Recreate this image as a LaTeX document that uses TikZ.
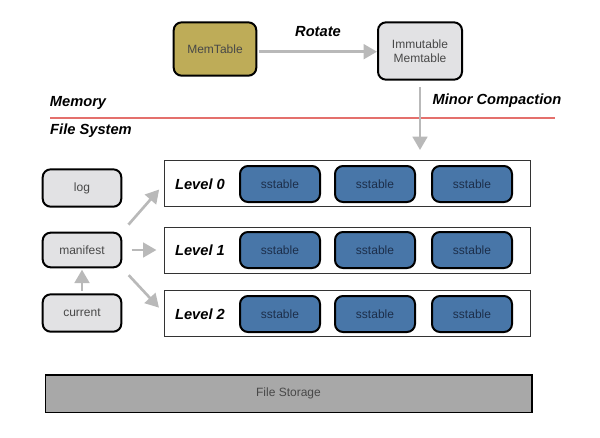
\documentclass[tikz,border=0pt]{standalone}
\usepackage{fontspec}
\setmainfont{Liberation Sans}
\usetikzlibrary{arrows.meta,calc}

\definecolor{memfill}{RGB}{190,172,88}
\definecolor{immfill}{RGB}{226,226,228}
\definecolor{sstfill}{RGB}{72,118,168}
\definecolor{storefill}{RGB}{168,168,168}
\definecolor{arrowgray}{RGB}{185,185,185}
\definecolor{redline}{RGB}{228,112,108}
\definecolor{boxtext}{RGB}{72,72,72}
\definecolor{ssttext}{RGB}{28,46,74}

\tikzset{every picture/.style={line width=0.75pt}}
\tikzset{
  rbox/.style={draw=black, line width=1.5pt, rounded corners=6pt, fill=immfill, text=boxtext, font=\fontsize{9}{10.5}\selectfont, align=center},
  sstbox/.style={rbox, fill=sstfill, text=ssttext, minimum width=60pt, minimum height=27pt},
  levelbox/.style={draw=black!80, line width=0.6pt, fill=white, minimum width=274pt, minimum height=34.5pt},
  lbl/.style={font=\fontsize{11}{13}\selectfont\bfseries\itshape},
  garrow/.style={draw=arrowgray, line width=2pt, -{Triangle[length=10pt,width=11pt]}}
}

\begin{document}
\begin{tikzpicture}[x=0.75pt,y=0.75pt,yscale=-1,xscale=1]
	\useasboundingbox (0,0) rectangle (600,437);

	%Shape: MemTable
	\node[rbox, fill=memfill, minimum width=62pt, minimum height=40pt] (mem) at (215,49) {MemTable};
	%Shape: Immutable Memtable
	\node[rbox, minimum width=63pt, minimum height=43pt] (imm) at (420,51) {Immutable\\Memtable};

	%Straight Lines: memory border
	\coordinate (redA) at (50,118);
	\coordinate (redB) at (555,118);
	\draw[redline, line width=1.1pt] (redA) -- (redB);

	%Shape: levels
	\node[levelbox] (lv0) at (347.5,183.5) {};
	\node[levelbox] (lv1) at (347.5,250) {};
	\node[levelbox] (lv2) at (347.5,313.5) {};

	% Text Node
	\node[lbl] (lab0) at (200,184) {Level 0};
	% Text Node
	\node[lbl] (lab1) at (200,250) {Level 1};
	% Text Node
	\node[lbl] (lab2) at (200,314) {Level 2};

	%Shape: sstables
	\node[sstbox] (s00) at (280,184) {sstable};
	\node[sstbox] (s01) at (375,184) {sstable};
	\node[sstbox] (s02) at (472,184) {sstable};
	\node[sstbox] (s10) at (280,250) {sstable};
	\node[sstbox] (s11) at (375,250) {sstable};
	\node[sstbox] (s12) at (472,250) {sstable};
	\node[sstbox] (s20) at (280,314) {sstable};
	\node[sstbox] (s21) at (375,314) {sstable};
	\node[sstbox] (s22) at (472,314) {sstable};

	%Shape: log, manifest, current
	\node[rbox, minimum width=59pt, minimum height=28pt] (log) at (82,188) {log};
	\node[rbox, minimum width=59pt, minimum height=26pt] (manifest) at (82,250) {manifest};
	\node[rbox, minimum width=59pt, minimum height=28pt] (current) at (82,313) {current};

	%Shape: File Storage
	\node[draw=black, line width=1pt, fill=storefill, text=boxtext, font=\fontsize{9}{10.5}\selectfont, minimum width=365pt, minimum height=28pt] (store) at (288.5,393.5) {File Storage};

	%Straight Lines: arrows
	\coordinate (mcend) at (420,150);
	\draw[garrow, shorten <=1pt] ([yshift=2pt]mem.east) -- ([yshift=2pt]mem.east -| imm.west);
	\draw[garrow, shorten <=5pt] (imm) -- (mcend);
	\draw[garrow, shorten <=7pt, shorten >=6pt] (manifest.north east) -- (lv0.west);
	\draw[garrow, shorten <=7pt, shorten >=6pt] (manifest.east) -- (lv1.west);
	\draw[garrow, shorten <=7pt, shorten >=6pt] (manifest.south east) -- (lv2.west);
	\draw[garrow, shorten <=2pt, shorten >=1pt] (current) -- (manifest);

	% Text Node
	\node[lbl] (rot) at (318,32) {Rotate};
	% Text Node
	\node[lbl] (minc) at (497,101) {Minor Compaction};
	% Text Node
	\node[lbl] (memlbl) at (78,103) {Memory};
	% Text Node
	\node[lbl] (fslbl) at (91,131) {File System};

\end{tikzpicture}
\end{document}
